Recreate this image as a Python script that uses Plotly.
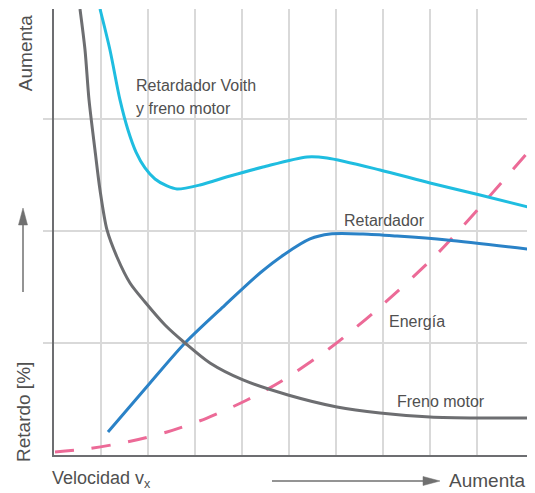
import plotly.graph_objects as go

# Data (x: velocity units, y: retardation units)
freno_x = [0.553, 0.660, 0.745, 0.872, 0.979, 1.128, 1.340, 1.617, 1.936, 2.362, 2.787, 3.319, 4.021, 4.979, 6.021, 6.936, 8.0, 9.064, 10.085]
freno_y = [3.982, 3.616, 3.170, 2.723, 2.366, 2.009, 1.768, 1.536, 1.366, 1.161, 1.0, 0.821, 0.670, 0.536, 0.429, 0.375, 0.339, 0.330, 0.330]

voith_x = [0.979, 1.191, 1.404, 1.574, 1.745, 1.936, 2.149, 2.404, 2.617, 3.106, 3.745, 4.447, 5.383, 5.809, 6.936, 8.0, 9.064, 10.085]
voith_y = [3.982, 3.616, 3.170, 2.902, 2.705, 2.563, 2.464, 2.402, 2.375, 2.411, 2.491, 2.571, 2.661, 2.652, 2.545, 2.429, 2.321, 2.214]

ret_x = [1.149, 2.043, 2.787, 3.638, 4.383, 4.915, 5.447, 5.872, 6.574, 7.298, 8.362, 10.085]
ret_y = [0.205, 0.643, 1.0, 1.339, 1.625, 1.795, 1.929, 1.973, 1.973, 1.955, 1.920, 1.839]

energia_x = [0.021, 0.702, 1.553, 2.404, 3.255, 4.106, 4.809, 5.872, 6.936, 8.170, 9.064, 10.085]
energia_y = [0.027, 0.054, 0.116, 0.205, 0.330, 0.491, 0.652, 0.955, 1.321, 1.804, 2.214, 2.705]

x_grid = [1, 2, 3, 4, 5, 6, 7, 8, 9]
y_grid = [1, 2, 3]

GRAY = "#6d6e71"
CYAN = "#1fbde0"
BLUE = "#2a82c7"
PINK = "#ec6a97"
GRID = "#d9d9d9"
TXT = "#505050"
FONT = "Liberation Sans"

fig = go.Figure()
fig.add_trace(go.Scatter(x=energia_x, y=energia_y, mode="lines",
                         line=dict(color=PINK, width=3, dash="19px,18px", shape="spline", smoothing=0.8)))
fig.add_trace(go.Scatter(x=ret_x, y=ret_y, mode="lines",
                         line=dict(color=BLUE, width=3, shape="spline", smoothing=0.8)))
fig.add_trace(go.Scatter(x=voith_x, y=voith_y, mode="lines",
                         line=dict(color=CYAN, width=3, shape="spline", smoothing=0.8)))
fig.add_trace(go.Scatter(x=freno_x, y=freno_y, mode="lines",
                         line=dict(color=GRAY, width=3, shape="spline", smoothing=0.8)))

fig.update_xaxes(range=[0, 10.085], tickvals=x_grid, showticklabels=False, ticks="",
                 showgrid=True, gridcolor=GRID, gridwidth=1.5, zeroline=False,
                 showline=True, linecolor=GRAY, linewidth=2, fixedrange=True)
fig.update_yaxes(range=[0, 3.982], tickvals=y_grid, showticklabels=False, ticks="outside",
                 ticklen=9, tickcolor=GRID, tickwidth=1.5,
                 showgrid=True, gridcolor=GRID, gridwidth=1.5, zeroline=False,
                 showline=True, linecolor=GRAY, linewidth=2, fixedrange=True)

def note(text, x, y, xref="x", yref="y", xanchor="left", size=16, angle=0):
    return dict(text=text, x=x, y=y, xref=xref, yref=yref, xanchor=xanchor, yanchor="middle",
                showarrow=False, textangle=angle, font=dict(family=FONT, size=size, color=TXT),
                align="left")

annotations = [
    note("Retardador Voith", 1.70, 3.30),
    note("y freno motor", 1.70, 3.095),
    note("Retardador", 6.128, 2.09),
    note("Energía", 7.085, 1.19),
    note("Freno motor", 7.255, 0.475),
    note("Aumenta", -0.0612, 0.901, "paper", "paper", "center", 19, -90),
    note("Retardo [%]", -0.0654, 0.0964, "paper", "paper", "center", 19, -90),
    note("Velocidad v<sub>x</sub>", -0.0084, -0.056, "paper", "paper", "left", 18),
    note("Aumenta", 0.998, -0.058, "paper", "paper", "right", 19),
]

AR = "#707070"
shapes = [
    dict(type="line", xref="paper", yref="paper", x0=-0.0654, x1=-0.0654, y0=0.3655, y1=0.52,
         line=dict(color=AR, width=1.5)),
    dict(type="path", xref="paper", yref="paper",
         path="M -0.0749 0.5157 L -0.0559 0.5157 L -0.0654 0.5538 Z",
         fillcolor=AR, line=dict(color=AR, width=0.5)),
    dict(type="line", xref="paper", yref="paper", x0=0.4599, x1=0.781, y0=-0.0583, y1=-0.0583,
         line=dict(color=AR, width=1.5)),
    dict(type="path", xref="paper", yref="paper",
         path="M 0.7785 -0.0482 L 0.7785 -0.0684 L 0.8143 -0.0583 Z",
         fillcolor=AR, line=dict(color=AR, width=0.5)),
]

# page body adds an 8px offset, so the figure is sized to fit the window
fig.update_layout(width=527, height=485, margin=dict(l=46, r=7, t=1, b=38),
                  paper_bgcolor="white", plot_bgcolor="white", showlegend=False,
                  annotations=annotations, shapes=shapes)

fig.write_html("out.html")
